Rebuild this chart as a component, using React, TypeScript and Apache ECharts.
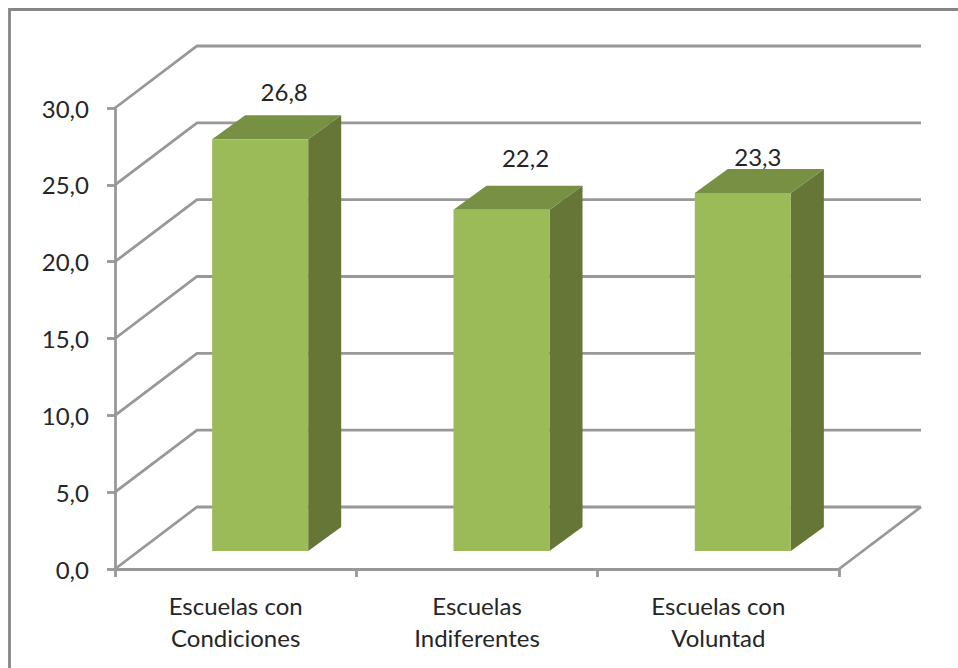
import React, { useEffect, useRef } from "react";
import * as echarts from "echarts";

const categories = ["Escuelas con\nCondiciones", "Escuelas\nIndiferentes", "Escuelas con\nVoluntad"];
const seriesValues = [26.8, 22.2, 23.3];
const valueTicks = [0, 5, 10, 15, 20, 25, 30];

// Hand placement of each value label, relative to the front-top centre of its bar.
const labelOffsets = [
  [24, -48],
  [24, -52],
  [15, -36],
];

const WALL_DX = 82;
const WALL_DY = -62;
const BAR_SHIFT_X = 24.5;
const BAR_SHIFT_Y = -18;
const BAR_DEPTH_X = 33;
const BAR_DEPTH_Y = -24;
const BAR_RATIO = 0.398;

const LINE = "#989898";
const LINE_WIDTH = 2.8;
const TEXT = "#262626";
const FONT = "Lato";
const FONT_SIZE = 24;

const comma = (v: number) => v.toFixed(1).replace(".", ",");

export default function App() {
  const ref = useRef<HTMLDivElement>(null);

  useEffect(() => {
    document.body.style.margin = "0";
    const chart = echarts.init(ref.current!, undefined, { renderer: "svg" });

    // Back wall gridlines, the side of the floor and the slanted wall lines.
    const renderWall = (params: any, api: any) => {
      const cs = params.coordSys;
      const v = api.value(1);
      const y = api.coord([0, v])[1];
      const left = cs.x;
      const right = cs.x + cs.width;
      const style = { stroke: LINE, lineWidth: LINE_WIDTH, fill: "none" };
      const children: any[] = [
        {
          type: "polyline",
          shape: {
            points: [
              [left, y],
              [left + WALL_DX, y + WALL_DY],
              [right + WALL_DX, y + WALL_DY],
            ],
          },
          style,
        },
      ];
      if (v === 0) {
        children.push({
          type: "line",
          shape: { x1: right, y1: y, x2: right + WALL_DX, y2: y + WALL_DY },
          style,
        });
      }
      return { type: "group", children };
    };

    // A box with front, top and side faces, plus its value label.
    const renderBar = (params: any, api: any) => {
      const i = api.value(0);
      const v = api.value(1);
      const [cx, top] = api.coord([i, v]);
      const [, base] = api.coord([i, 0]);
      const w = api.size([1, 0])[0] * BAR_RATIO;
      const x0 = cx + BAR_SHIFT_X - w / 2;
      const x1 = x0 + w;
      const yTop = top + BAR_SHIFT_Y;
      const yBase = base + BAR_SHIFT_Y;
      const [ox, oy] = labelOffsets[params.dataIndex];
      return {
        type: "group",
        children: [
          {
            type: "polygon",
            shape: {
              points: [
                [x1, yTop],
                [x1 + BAR_DEPTH_X, yTop + BAR_DEPTH_Y],
                [x1 + BAR_DEPTH_X, yBase + BAR_DEPTH_Y],
                [x1, yBase],
              ],
            },
            style: { fill: "#657636" },
          },
          {
            type: "polygon",
            shape: {
              points: [
                [x0, yTop],
                [x0 + BAR_DEPTH_X, yTop + BAR_DEPTH_Y],
                [x1 + BAR_DEPTH_X, yTop + BAR_DEPTH_Y],
                [x1, yTop],
              ],
            },
            style: { fill: "#779043" },
          },
          {
            type: "rect",
            shape: { x: x0, y: yTop, width: w, height: yBase - yTop },
            style: { fill: "#9BBB59" },
          },
          {
            type: "text",
            style: {
              x: cx + BAR_SHIFT_X + ox,
              y: yTop + oy,
              text: comma(v),
              fill: TEXT,
              font: `${FONT_SIZE}px ${FONT}`,
              align: "center",
              verticalAlign: "middle",
            },
          },
        ],
      };
    };

    chart.setOption({
      animation: false,
      backgroundColor: "#ffffff",
      grid: { left: 115, right: 119, top: 108, bottom: 99 },
      xAxis: {
        type: "category",
        data: categories,
        axisLine: { lineStyle: { color: LINE, width: LINE_WIDTH } },
        axisTick: { show: true, alignWithLabel: false, length: 8, lineStyle: { color: LINE, width: LINE_WIDTH } },
        axisLabel: { color: TEXT, fontFamily: FONT, fontSize: FONT_SIZE, lineHeight: 32, margin: 20, interval: 0 },
      },
      yAxis: {
        type: "value",
        min: 0,
        max: 30,
        interval: 5,
        splitLine: { show: false },
        axisLine: { show: true, lineStyle: { color: LINE, width: LINE_WIDTH } },
        axisTick: { show: true, length: 8, lineStyle: { color: LINE, width: LINE_WIDTH } },
        axisLabel: { color: TEXT, fontFamily: FONT, fontSize: FONT_SIZE, margin: 26, formatter: comma },
      },
      graphic: [
        {
          type: "polyline",
          shape: { points: [[9.5, 668], [9.5, 9.5], [958, 9.5]] },
          style: { stroke: "#868686", lineWidth: 2.8, fill: "none" },
          silent: true,
        },
      ],
      series: [
        {
          type: "custom",
          clip: false,
          z: 1,
          renderItem: renderWall,
          encode: { x: 0, y: 1 },
          data: valueTicks.map((v) => [0, v]),
          silent: true,
        },
        {
          type: "custom",
          clip: false,
          z: 3,
          renderItem: renderBar,
          encode: { x: 0, y: 1 },
          data: seriesValues.map((v, i) => [i, v]),
          silent: true,
        },
      ],
    });

    return () => chart.dispose();
  }, []);

  return <div ref={ref} style={{ position: "fixed", left: 0, top: 0, width: 958, height: 668 }} />;
}
